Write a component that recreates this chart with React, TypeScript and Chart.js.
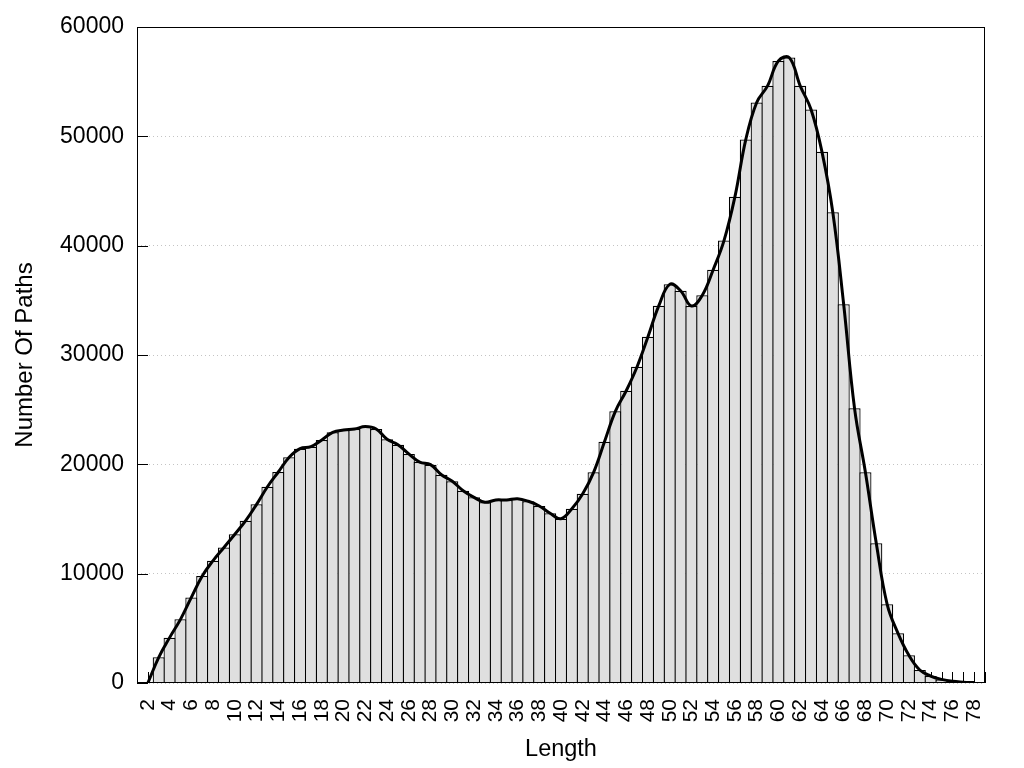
import { useEffect, useRef } from 'react';
import { Chart, registerables } from 'chart.js';

Chart.register(...registerables);

const FONT = '"Liberation Sans", Arial, Helvetica, sans-serif';

// Path length categories
const lengths = [
  2, 3, 4, 5, 6, 7, 8, 9, 10, 11, 12, 13, 14, 15, 16, 17, 18, 19, 20,
  21, 22, 23, 24, 25, 26, 27, 28, 29, 30, 31, 32, 33, 34, 35, 36, 37, 38, 39, 40,
  41, 42, 43, 44, 45, 46, 47, 48, 49, 50, 51, 52, 53, 54, 55, 56, 57, 58, 59, 60,
  61, 62, 63, 64, 65, 66, 67, 68, 69, 70, 71, 72, 73, 74, 75, 76, 77, 78,
];

// Number of paths for each length
const pathCounts = [
  0, 2350, 4150, 5820, 7830, 9790, 11190, 12400, 13600, 14850, 16340, 17950, 19300, 20640, 21430, 21610, 22230, 22930, 23140,
  23230, 23450, 23230, 22290, 21800, 20950, 20210, 19970, 19050, 18450, 17590, 16980, 16530, 16740, 16740, 16860, 16620, 16190, 15520, 15030,
  15940, 17310, 19270, 22070, 24850, 26730, 28930, 31670, 34510, 36460, 35880, 34480, 35470, 37800, 40480, 44480, 49720, 53100, 54620, 56900,
  57200, 54620, 52450, 48600, 43050, 34640, 25120, 19270, 12780, 7200, 4540, 2530, 1190, 640, 330, 150, 80, 40,
];

// Labelled x ticks
const xTickLabels = [
  2, 4, 6, 8, 10, 12, 14, 16, 18, 20, 22, 24, 26, 28, 30, 32, 34, 36, 38, 40,
  42, 44, 46, 48, 50, 52, 54, 56, 58, 60, 62, 64, 66, 68, 70, 72, 74, 76, 78,
];

const xMin = 1;
const xMax = 79;
const yTicks = [0, 10000, 20000, 30000, 40000, 50000, 60000];

const BAR_BORDER = 1.25;

const framePlugin = {
  id: 'frameAndInwardTicks',
  beforeDatasetsDraw(chart: any) {
    const { ctx, chartArea: a, scales } = chart;
    const x = scales.x;
    const y = scales.y;
    ctx.save();
    ctx.strokeStyle = '#000';
    ctx.lineWidth = 1;
    ctx.beginPath();
    x.ticks.forEach((t: any) => {
      const px = Math.round(x.getPixelForValue(t.value)) + 0.5;
      ctx.moveTo(px, a.bottom);
      ctx.lineTo(px, a.bottom - 11);
    });
    y.ticks.forEach((t: any) => {
      const py = Math.round(y.getPixelForValue(t.value)) + 0.5;
      ctx.moveTo(a.left, py);
      ctx.lineTo(a.left + 11, py);
    });
    ctx.stroke();
    ctx.restore();
  },
  afterDatasetsDraw(chart: any) {
    const { ctx, chartArea: a } = chart;
    ctx.save();
    ctx.strokeStyle = '#000';
    ctx.lineWidth = 1;
    ctx.strokeRect(
      Math.round(a.left) + 0.5,
      Math.round(a.top) + 0.5,
      Math.round(a.right) - Math.round(a.left) - 1,
      Math.round(a.bottom) - Math.round(a.top) - 1
    );
    ctx.restore();
  },
};

export default function App() {
  const canvasRef = useRef<HTMLCanvasElement | null>(null);

  useEffect(() => {
    if (!canvasRef.current) return;
    const points = lengths.map((l, i) => ({ x: l, y: pathCounts[i] }));
    const chart = new Chart(canvasRef.current, {
      type: 'bar',
      data: {
        datasets: [
          {
            type: 'line',
            data: points,
            borderColor: '#000',
            borderWidth: 3,
            pointRadius: 0,
            tension: 0.4,
            fill: false,
            order: 0,
          } as any,
          {
            type: 'bar',
            data: points,
            backgroundColor: '#dfdfdf',
            borderColor: '#000',
            borderWidth: BAR_BORDER,
            barPercentage: 1.115,
            categoryPercentage: 1,
            order: 1,
          } as any,
        ],
      },
      options: {
        animation: false,
        responsive: true,
        maintainAspectRatio: false,
        layout: { padding: { left: 7, right: 39, top: 27, bottom: 0 } },
        plugins: {
          legend: { display: false },
          tooltip: { enabled: false },
        },
        scales: {
          x: {
            type: 'linear',
            min: xMin,
            max: xMax,
            offset: false,
            grid: { display: false, offset: false },
            border: { display: false },
            ticks: {
              stepSize: 1,
              autoSkip: false,
              maxRotation: 90,
              minRotation: 90,
              padding: 8,
              color: '#000',
              font: { family: FONT, size: 21 },
              callback: (v: any) => (xTickLabels.includes(Number(v)) ? String(v) : ''),
            },
            title: {
              display: true,
              text: 'Length',
              color: '#000',
              font: { family: FONT, size: 23.5 },
              padding: { top: 4, bottom: 4 },
            },
            afterFit: (s: any) => {
              s.height = 85;
            },
          },
          y: {
            type: 'linear',
            min: yTicks[0],
            max: yTicks[yTicks.length - 1],
            grid: { color: '#c4c4c4', drawTicks: false, lineWidth: 1 },
            border: { display: false, dash: [1, 3] },
            ticks: {
              stepSize: 10000,
              padding: 13,
              color: '#000',
              font: { family: FONT, size: 23 },
              callback: (v: any) => String(v),
            },
            title: {
              display: true,
              text: 'Number Of Paths',
              color: '#000',
              font: { family: FONT, size: 24 },
              padding: { top: 4, bottom: 4 },
            },
            afterFit: (s: any) => {
              s.width = 130;
            },
          },
        },
      } as any,
      plugins: [framePlugin],
    });
    return () => chart.destroy();
  }, []);

  return (
    <div style={{ position: 'absolute', left: 0, top: 0, width: 1024, height: 768, background: '#fff' }}>
      <canvas ref={canvasRef} />
    </div>
  );
}
